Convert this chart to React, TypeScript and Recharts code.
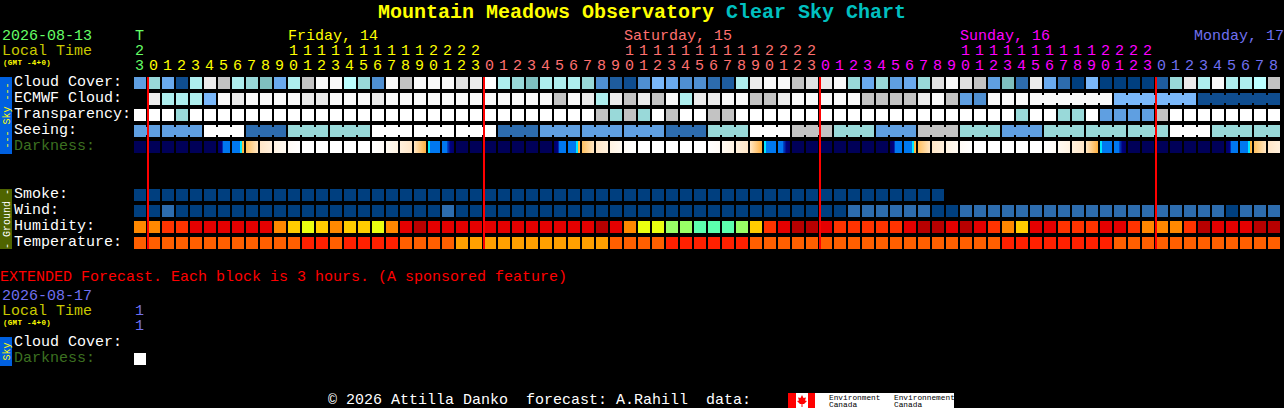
import { ReferenceLine, Scatter, ScatterChart, XAxis, YAxis } from "recharts";

const WIDTH = 1284;
const HEIGHT = 408;
const MONO = "'Liberation Mono', monospace";

// sky rows share one scale: 0 = dark blue ... 16 = white
const skyPalette = [
  "#003F7F", "#0F4D8F", "#1E5C9E", "#2D6CAE", "#4F8FD1", "#5F9FE1", "#6AAAEE", "#7AB8FA", "#7FBFBF",
  "#99D9D9", "#AEEEEE", "#BBFFFF", "#C3C3C3", "#E0E0E0", "#EBEBEB", "#F9F9F9", "#FFFFFF",
];

const cloudCover = [
  5, 9, 6, 1, 10, 14, 12, 10, 9, 8, 6, 10, 12, 15, 15, 11, 9, 4, 15, 12, 15,
  15, 15, 13, 14, 16, 10, 9, 8, 10, 10, 10, 9, 4, 2, 1, 4, 7, 6, 4, 4, 3, 2, 10, 14, 15, 15, 12, 13, 14, 15, 9,
  6, 9, 5, 6, 9, 13, 15, 13, 12, 5, 8, 3, 14, 6, 3, 0, 7, 0, 0, 0, 0, 2, 9, 14, 10, 15, 10, 10, 11, 12,
];
const ecmwfCloud = [
  null, 14, 10, 10, 10, 7, 15, 14, 15, 15, 15, 15, 14, 14, 15, 15, 15, 14, 15, 15, 15,
  15, 15, 15, 15, 15, 15, 15, 15, 15, 12, 15, 14, 10, 14, 12, 14, 12, 15, 10, 14, 14, 15, 15, 12, 12, 14, 15, 15, 15, 15, 15,
  12, 12, 12, 12, 14, 15, 12, 5, 4, 15, 15, 15, 15, 15, 15, 15, 15, 15, 7, 7, 7, 7, 7, 7, 1, 1, 1, 1, 1, 1,
];
const ecmwfBlocks = [
  1, 1, 1, 1, 1, 1, 1, 1, 1, 1, 1, 1, 1, 1, 1, 1, 1, 1, 1, 1, 1, 1, 1, 1, 1, 1, 1, 1, 1, 1, 1, 1,
  1, 1, 1, 1, 1, 1, 1, 1, 1, 1, 1, 1, 1, 1, 1, 1, 1, 1, 1, 1, 1, 1, 1, 1, 1, 1, 1, 1, 1, 1, 1, 1, 6, 6, 6,
];
const transparency = [
  16, 16, 16, 9, 16, 16, 16, 16, 16, 16, 16, 16, 16, 16, 16, 16, 16, 16, 16, 16, 16,
  16, 16, 16, 16, 16, 16, 16, 16, 16, 16, 16, 16, 12, 9, 12, 9, 16, 12, 16, 16, 12, 12, 16, 16, 16, 16, 16, 16, 16, 16, 16,
  16, 16, 16, 16, 16, 16, 16, 16, 16, 16, 16, 9, 16, 16, 9, 9, 16, 5, 5, 5, 5, 12, 16, 16, 16, 16, 16, 16, 16, 16,
];
const seeing = [
  5, 5, 5, 5, 5, 16, 16, 16, 3, 3, 3, 9, 9, 9, 9, 9, 9, 16, 16, 16, 16,
  16, 16, 16, 16, 16, 3, 3, 3, 5, 5, 5, 5, 5, 5, 5, 5, 5, 3, 3, 3, 9, 9, 9, 16, 16, 16, 12, 12, 12, 9, 9,
  9, 5, 5, 5, 12, 12, 12, 9, 9, 9, 5, 5, 5, 9, 9, 9, 9, 9, 9, 9, 9, 9, 16, 16, 16, 9, 9, 9, 9, 9,
];
const seeingBlocks = [2, 3, 3, 3, 3, 3, 3, 3, 3, 3, 3, 3, 3, 3, 3, 3, 3, 3, 3, 3, 3, 3, 3, 3, 3, 3, 3, 2];

// 0 night, 1-6 dawn steps, 7 full daylight, 8-13 dusk steps
const darkness = [
  0, 0, 0, 0, 0, 0, 1, 2, 3, 4, 5, 6, 7, 7, 7, 7, 7, 8, 9, 10, 11, 12, 13,
  0, 0, 0, 0, 0, 0, 0, 1, 2, 3, 4, 5, 6, 7, 7, 7, 7, 7, 8, 9, 10, 11, 12, 13,
  0, 0, 0, 0, 0, 0, 0, 1, 2, 3, 4, 5, 6, 7, 7, 7, 7, 7, 8, 9, 10, 11, 12, 13,
  0, 0, 0, 0, 0, 0, 0, 1, 2, 3, 4,
];
const darknessStops: [string, string][][] = [
  [["0", "#000058"], ["1", "#000058"]],
  [["0", "#000068"], ["0.3", "#000080"], ["0.42", "#0048C8"], ["0.45", "#0078F0"], ["1", "#0078F0"]],
  [["0", "#0078F0"], ["0.66", "#0078F0"], ["0.68", "#00E8FF"], ["0.82", "#00E8FF"], ["0.84", "#FFB030"], ["1", "#FFC050"]],
  [["0", "#FFC060"], ["1", "#FFE6C4"]],
  [["0", "#FFE6C8"], ["1", "#FFF0DC"]],
  [["0", "#FFF3E2"], ["1", "#FFFAF2"]],
  [["0", "#FFFBF6"], ["1", "#FFFFFF"]],
  [["0", "#FFFFFF"], ["1", "#FFFFFF"]],
  [["0", "#FFFFFF"], ["1", "#FFFBF6"]],
  [["0", "#FFFAF2"], ["1", "#FFF3E2"]],
  [["0", "#FFF0DC"], ["1", "#FFE6C8"]],
  [["0", "#FFE6C4"], ["1", "#FFB040"]],
  [["0", "#00E8FF"], ["0.16", "#00E8FF"], ["0.18", "#0078F0"], ["1", "#0078F0"]],
  [["0", "#0078F0"], ["0.4", "#0078F0"], ["0.45", "#0048C8"], ["0.7", "#000080"], ["1", "#000068"]],
];

const smoke = [
  0, 0, 0, 0, 0, 0, 0, 0, 0, 0, 0, 0, 0, 0, 0, 0, 0, 0, 0, 0, 0, 0, 0, 0, 0, 0, 0, 0, 0,
  0, 0, 0, 0, 0, 0, 0, 0, 0, 0, 0, 0, 0, 0, 0, 0, 0, 0, 0, 0, 0, 0, 0, 0, 0, 0, 0, 0, 0,
];
const wind = [
  0, 0, 3, 0, 0, 0, 0, 0, 0, 0, 0, 0, 0, 0, 0, 0, 0, 0, 0, 0, 0,
  0, 3, 0, 0, 0, 0, 0, 0, 0, 0, 0, 0, 0, 0, 0, 0, 0, 0, 0, 0, 0, 0, 0, 0, 0, 0, 0, 0, 0, 0, 3,
  3, 3, 3, 3, 3, 0, 0, 3, 3, 3, 3, 3, 3, 3, 3, 3, 3, 3, 3, 3, 3, 3, 3, 3, 3, 3, 0, 3, 3, 3,
];

const humidityPalette = ["#B80000", "#E40000", "#FF3300", "#FF8800", "#FFCC00", "#EAFF10", "#99FF66", "#5CFFAE"];
const humidity = [
  3, 3, 2, 2, 1, 1, 1, 1, 1, 1, 3, 4, 5, 4, 3, 4, 4, 5, 3, 1, 0,
  1, 1, 1, 1, 1, 1, 1, 1, 1, 1, 1, 1, 0, 1, 3, 5, 5, 6, 6, 7, 7, 7, 6, 4, 2, 1, 0, 0, 1, 2, 2,
  2, 2, 2, 1, 0, 0, 1, 0, 1, 2, 3, 4, 1, 1, 2, 2, 2, 1, 1, 2, 3, 3, 3, 2, 0, 1, 1, 1, 0, 0,
];

const temperaturePalette = ["#FF2000", "#FF5F00", "#FFA000"];
const temperature = [
  1, 1, 1, 1, 1, 1, 1, 1, 1, 1, 1, 1, 0, 0, 1, 0, 0, 0, 0, 1, 1,
  1, 1, 2, 2, 2, 2, 2, 2, 2, 2, 2, 2, 2, 1, 1, 1, 1, 0, 0, 0, 0, 0, 0, 1, 1, 1, 1, 1, 1, 1, 1,
  1, 1, 1, 1, 1, 1, 1, 1, 1, 1, 0, 0, 0, 0, 0, 0, 0, 0, 1, 1, 1, 1, 1, 1, 1, 1, 1, 1, 1, 1,
];

const hours = [
  23,
  0, 1, 2, 3, 4, 5, 6, 7, 8, 9, 10, 11, 12, 13, 14, 15, 16, 17, 18, 19, 20, 21, 22, 23,
  0, 1, 2, 3, 4, 5, 6, 7, 8, 9, 10, 11, 12, 13, 14, 15, 16, 17, 18, 19, 20, 21, 22, 23,
  0, 1, 2, 3, 4, 5, 6, 7, 8, 9, 10, 11, 12, 13, 14, 15, 16, 17, 18, 19, 20, 21, 22, 23,
  0, 1, 2, 3, 4, 5, 6, 7, 8,
];
const dayColors = ["#66FF66", "#FFFF00", "#FF7070", "#FF00FF", "#7070F0"];
const midnightColumns = [1, 25, 49, 73];

const rowLabels = [
  { row: 0, text: "Cloud Cover:", color: "#FFFFFF" },
  { row: 1, text: "ECMWF Cloud:", color: "#FFFFFF" },
  { row: 2, text: "Transparency:", color: "#FFFFFF" },
  { row: 3, text: "Seeing:", color: "#FFFFFF" },
  { row: 4, text: "Darkness:", color: "#3C7020" },
  { row: 7, text: "Smoke:", color: "#FFFFFF" },
  { row: 8, text: "Wind:", color: "#FFFFFF" },
  { row: 9, text: "Humidity:", color: "#FFFFFF" },
  { row: 10, text: "Temperature:", color: "#FFFFFF" },
  { row: 16.25, text: "Cloud Cover:", color: "#FFFFFF" },
  { row: 17.25, text: "Darkness:", color: "#3C7020" },
];

const dayHeaders = [
  { x: 288, text: "Friday, 14", color: "#FFFF00" },
  { x: 624, text: "Saturday, 15", color: "#FF7070" },
  { x: 960, text: "Sunday, 16", color: "#FF00FF" },
  { x: 1194, text: "Monday, 17", color: "#7070F0" },
];

function toPoints(row: number, values: (number | null)[], blocks?: number[]) {
  const joined = new Set<number>();
  if (blocks) {
    let start = 0;
    blocks.forEach((len) => {
      for (let i = start; i < start + len - 1; i++) joined.add(i);
      start += len;
    });
  }
  return values.flatMap((level, col) =>
    level === null ? [] : [{ col, row, level, joined: joined.has(col) }]
  );
}

function makeCell(fillFor: (level: number) => string) {
  return function HeatCell(props: any) {
    const { cx, cy, payload } = props;
    const fill = fillFor(payload.level);
    return (
      <g>
        <rect x={cx} y={cy} width={12} height={12} fill={fill} />
        {payload.joined && <rect x={cx + 12} y={cy + 2} width={2} height={8} fill={fill} />}
      </g>
    );
  };
}

const skyCell = makeCell((level) => skyPalette[level]);
const humidityCell = makeCell((level) => humidityPalette[level]);
const temperatureCell = makeCell((level) => temperaturePalette[level]);
const darknessCell = makeCell((level) => `url(#dark-${level})`);

function dayColorOf(col: number) {
  if (col === 0) return dayColors[0];
  return dayColors[1 + Math.floor((col - 1) / 24)];
}

function HourTick({ x, payload }: any) {
  const col = payload.value;
  const hour = hours[col];
  const color = dayColorOf(col);
  return (
    <g fontFamily={MONO} fontSize={15} textAnchor="middle">
      {hour >= 10 && (
        <text x={x + 5.5} y={55} fill={color}>
          {Math.floor(hour / 10)}
        </text>
      )}
      <text x={x + 5.5} y={70} fill={color}>
        {hour % 10}
      </text>
    </g>
  );
}

function RowTick({ y, payload }: any) {
  const label = rowLabels.find((item) => item.row === payload.value);
  return (
    <text x={14} y={y + 9} fontFamily={MONO} fontSize={15} fill={label?.color}>
      {label?.text}
    </text>
  );
}

function Label({ x, y, color, size = 15, bold, spacing, children }: any) {
  return (
    <text
      x={x}
      y={y}
      fill={color}
      fontSize={size}
      fontFamily={MONO}
      fontWeight={bold ? "bold" : "normal"}
      letterSpacing={spacing}
      xmlSpace="preserve"
    >
      {children}
    </text>
  );
}

function SideBar({ top, bottom, fill, color, text }: any) {
  const mid = (top + bottom) / 2;
  return (
    <g>
      <rect x={0} y={top} width={12} height={bottom - top} fill={fill} />
      <text
        x={9.5}
        y={mid}
        transform={`rotate(-90 9.5 ${mid})`}
        textAnchor="middle"
        fontFamily={MONO}
        fontSize={10}
        fill={color}
        xmlSpace="preserve"
      >
        {text}
      </text>
    </g>
  );
}

export default function App() {
  return (
    <div style={{ position: "absolute", left: 0, top: 0, width: WIDTH, height: HEIGHT, background: "#000", overflow: "hidden" }}>
      <ScatterChart width={WIDTH} height={HEIGHT} margin={{ top: 0, right: 0, bottom: -1, left: -1 }}>
        <defs>
          {darknessStops.map((stops, i) => (
            <linearGradient key={i} id={`dark-${i}`} x1="0" y1="0" x2="1" y2="0">
              {stops.map(([offset, color]) => (
                <stop key={offset} offset={offset} stopColor={color} />
              ))}
            </linearGradient>
          ))}
        </defs>
        <XAxis
          type="number"
          dataKey="col"
          domain={[-134 / 14, 1150 / 14]}
          allowDataOverflow
          height={1}
          ticks={hours.map((_, col) => col)}
          interval={0}
          tick={HourTick}
          axisLine={false}
          tickLine={false}
        />
        <YAxis
          type="number"
          dataKey="row"
          domain={[-77 / 16, 331 / 16]}
          reversed
          allowDataOverflow
          width={1}
          ticks={rowLabels.map((item) => item.row)}
          interval={0}
          tick={RowTick}
          axisLine={false}
          tickLine={false}
        />
        <Scatter name="Cloud Cover" data={toPoints(0, cloudCover)} shape={skyCell} isAnimationActive={false} />
        <Scatter name="ECMWF Cloud" data={toPoints(1, ecmwfCloud, ecmwfBlocks)} shape={skyCell} isAnimationActive={false} />
        <Scatter name="Transparency" data={toPoints(2, transparency)} shape={skyCell} isAnimationActive={false} />
        <Scatter name="Seeing" data={toPoints(3, seeing, seeingBlocks)} shape={skyCell} isAnimationActive={false} />
        <Scatter name="Darkness" data={toPoints(4, darkness)} shape={darknessCell} isAnimationActive={false} />
        <Scatter name="Smoke" data={toPoints(7, smoke)} shape={skyCell} isAnimationActive={false} />
        <Scatter name="Wind" data={toPoints(8, wind)} shape={skyCell} isAnimationActive={false} />
        <Scatter name="Humidity" data={toPoints(9, humidity)} shape={humidityCell} isAnimationActive={false} />
        <Scatter name="Temperature" data={toPoints(10, temperature)} shape={temperatureCell} isAnimationActive={false} />
        <Scatter name="Extended Darkness" data={toPoints(17.25, [7])} shape={darknessCell} isAnimationActive={false} />
        {midnightColumns.map((col) => (
          <ReferenceLine
            key={col}
            segment={[
              { x: col, y: 0 },
              { x: col, y: 10.75 },
            ]}
            stroke="#FF0000"
            strokeWidth={2}
            zIndex={1000}
          />
        ))}

        <text x={378} y={18} fontFamily={MONO} fontSize={20} fontWeight="bold" fill="#FFFF00">
          Mountain Meadows Observatory
        </text>
        <text x={726} y={18} fontFamily={MONO} fontSize={20} fontWeight="bold" fill="#00C0C0">
          Clear Sky Chart
        </text>

        <Label x={2} y={40} color="#66FF66">2026-08-13</Label>
        <Label x={2} y={54.5} color="#C8C800">Local Time</Label>
        <Label x={3} y={65.3} color="#FFFF00" size={7.5} spacing={0.3} bold>(GMT -4+0)</Label>
        <Label x={135} y={40} color="#66FF66">T</Label>
        {dayHeaders.map((day) => (
          <Label key={day.text} x={day.x} y={40} color={day.color}>
            {day.text}
          </Label>
        ))}

        <SideBar top={77} bottom={154} fill="#0060E0" color="#FFFF00" text="--- Sky ---" />
        <SideBar top={189} bottom={249} fill="#4F6400" color="#FFFFFF" text="- Ground -" />
        <SideBar top={337} bottom={366} fill="#0060E0" color="#FFFF00" text="Sky" />

        <Label x={0} y={281} color="#FF0000">EXTENDED Forecast. Each block is 3 hours. (A sponsored feature)</Label>
        <Label x={2} y={300} color="#7070F0">2026-08-17</Label>
        <Label x={2} y={314.5} color="#C8C800">Local Time</Label>
        <Label x={3} y={325.3} color="#FFFF00" size={7.5} spacing={0.3} bold>(GMT -4+0)</Label>
        <Label x={135} y={315} color="#7070F0">1</Label>
        <Label x={135} y={330} color="#7070F0">1</Label>

        <Label x={328} y={404} color="#FFFFFF">{"© 2026 Attilla Danko  forecast: A.Rahill  data:"}</Label>
        <rect x={788} y={393} width={166} height={15} fill="#FFFFFF" />
        <rect x={788} y={393} width={8} height={15} fill="#FF0000" />
        <rect x={808} y={393} width={7} height={15} fill="#FF0000" />
        <polygon
          points="802,395 803.5,398 806,397.5 805,400.5 807,401 804,404 802.5,404 802.5,407 801.5,407 801.5,404 800,404 797,401 799,400.5 798,397.5 800.5,398"
          fill="#FF0000"
        />
        <Label x={829} y={400} color="#000000" size={7.8}>Environment</Label>
        <Label x={829} y={407} color="#000000" size={7.8}>Canada</Label>
        <Label x={894} y={400} color="#000000" size={7.8}>Environnement</Label>
        <Label x={894} y={407} color="#000000" size={7.8}>Canada</Label>
      </ScatterChart>
    </div>
  );
}
